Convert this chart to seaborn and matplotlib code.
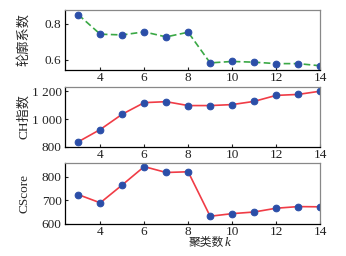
import matplotlib
matplotlib.use("Agg")
import matplotlib.pyplot as plt
import seaborn as sns
import pandas as pd
from matplotlib.ticker import FuncFormatter

k = [3, 4, 5, 6, 7, 8, 9, 10, 11, 12, 13, 14]
silhouette = [0.852, 0.743, 0.739, 0.756, 0.728, 0.754, 0.583, 0.591, 0.587, 0.579, 0.579, 0.567]
ch_index = [837, 925, 1035, 1118, 1125, 1097, 1097, 1104, 1127, 1170, 1177, 1200]
cscore = [725, 690, 766, 844, 819, 822, 633, 644, 651, 667, 674, 673]

sns.set_style("ticks")
plt.rcParams['font.family'] = ['Liberation Serif', 'Noto Sans CJK SC']
plt.rcParams['font.size'] = 9.5

fig = plt.figure(figsize=(3.46, 2.56), dpi=100)
left, width = 0.188, 0.737
axes = [fig.add_axes([left, 0.727, width, 0.234]),
        fig.add_axes([left, 0.426, width, 0.234]),
        fig.add_axes([left, 0.125, width, 0.238])]

df = pd.DataFrame({"k": k, "s": silhouette, "ch": ch_index, "cs": cscore})
mcol = "#2b4ea8"
specs = [("s", "#3aa845", (0, (4, 2)), "轮廓系数", (0.544, 0.878), [0.6, 0.8]),
         ("ch", "#f03c46", "-", "CH指数", (800, 1230), [800, 1000, 1200]),
         ("cs", "#f03c46", "-", "CScore", (600, 859), [600, 700, 800])]

for ax, (col, lc, ls, lab, yl, yt) in zip(axes, specs):
    sns.lineplot(data=df, x="k", y=col, ax=ax, color=lc, linestyle=ls, lw=1.2,
                 marker="o", markersize=4.8, markerfacecolor=mcol, markeredgecolor=mcol)
    ax.set_xlim(2.4, 14)
    ax.set_ylim(*yl)
    ax.set_yticks(yt)
    ax.set_xticks([4, 6, 8, 10, 12, 14])
    ax.set_xlabel("")
    ax.set_ylabel(lab, fontsize=9.5)
    ax.yaxis.set_label_coords(-0.137, 0.5)
    ax.tick_params(direction="in", length=2.5, width=0.8, labelsize=9.5, colors="#222222")
    ax.tick_params(axis="x", pad=1.5)
    ax.tick_params(axis="y", pad=2.5)
    ax.spines["left"].set_color("black")
    ax.spines["bottom"].set_color("black")
    ax.spines["top"].set_color("#888888")
    ax.spines["right"].set_color("#888888")
    for s in ax.spines.values():
        s.set_linewidth(0.9)

axes[1].yaxis.set_major_formatter(FuncFormatter(lambda v, p: f"{int(v):,}".replace(",", " ")))

# x label: Chinese text followed by italic k
fig.text(0.648, 0.04, "聚类数", fontsize=8.5, ha="right", va="baseline")
fig.text(0.648, 0.04, "k", fontsize=9.5, style="italic", ha="left", va="baseline")

fig.savefig("out.png", dpi=100)
